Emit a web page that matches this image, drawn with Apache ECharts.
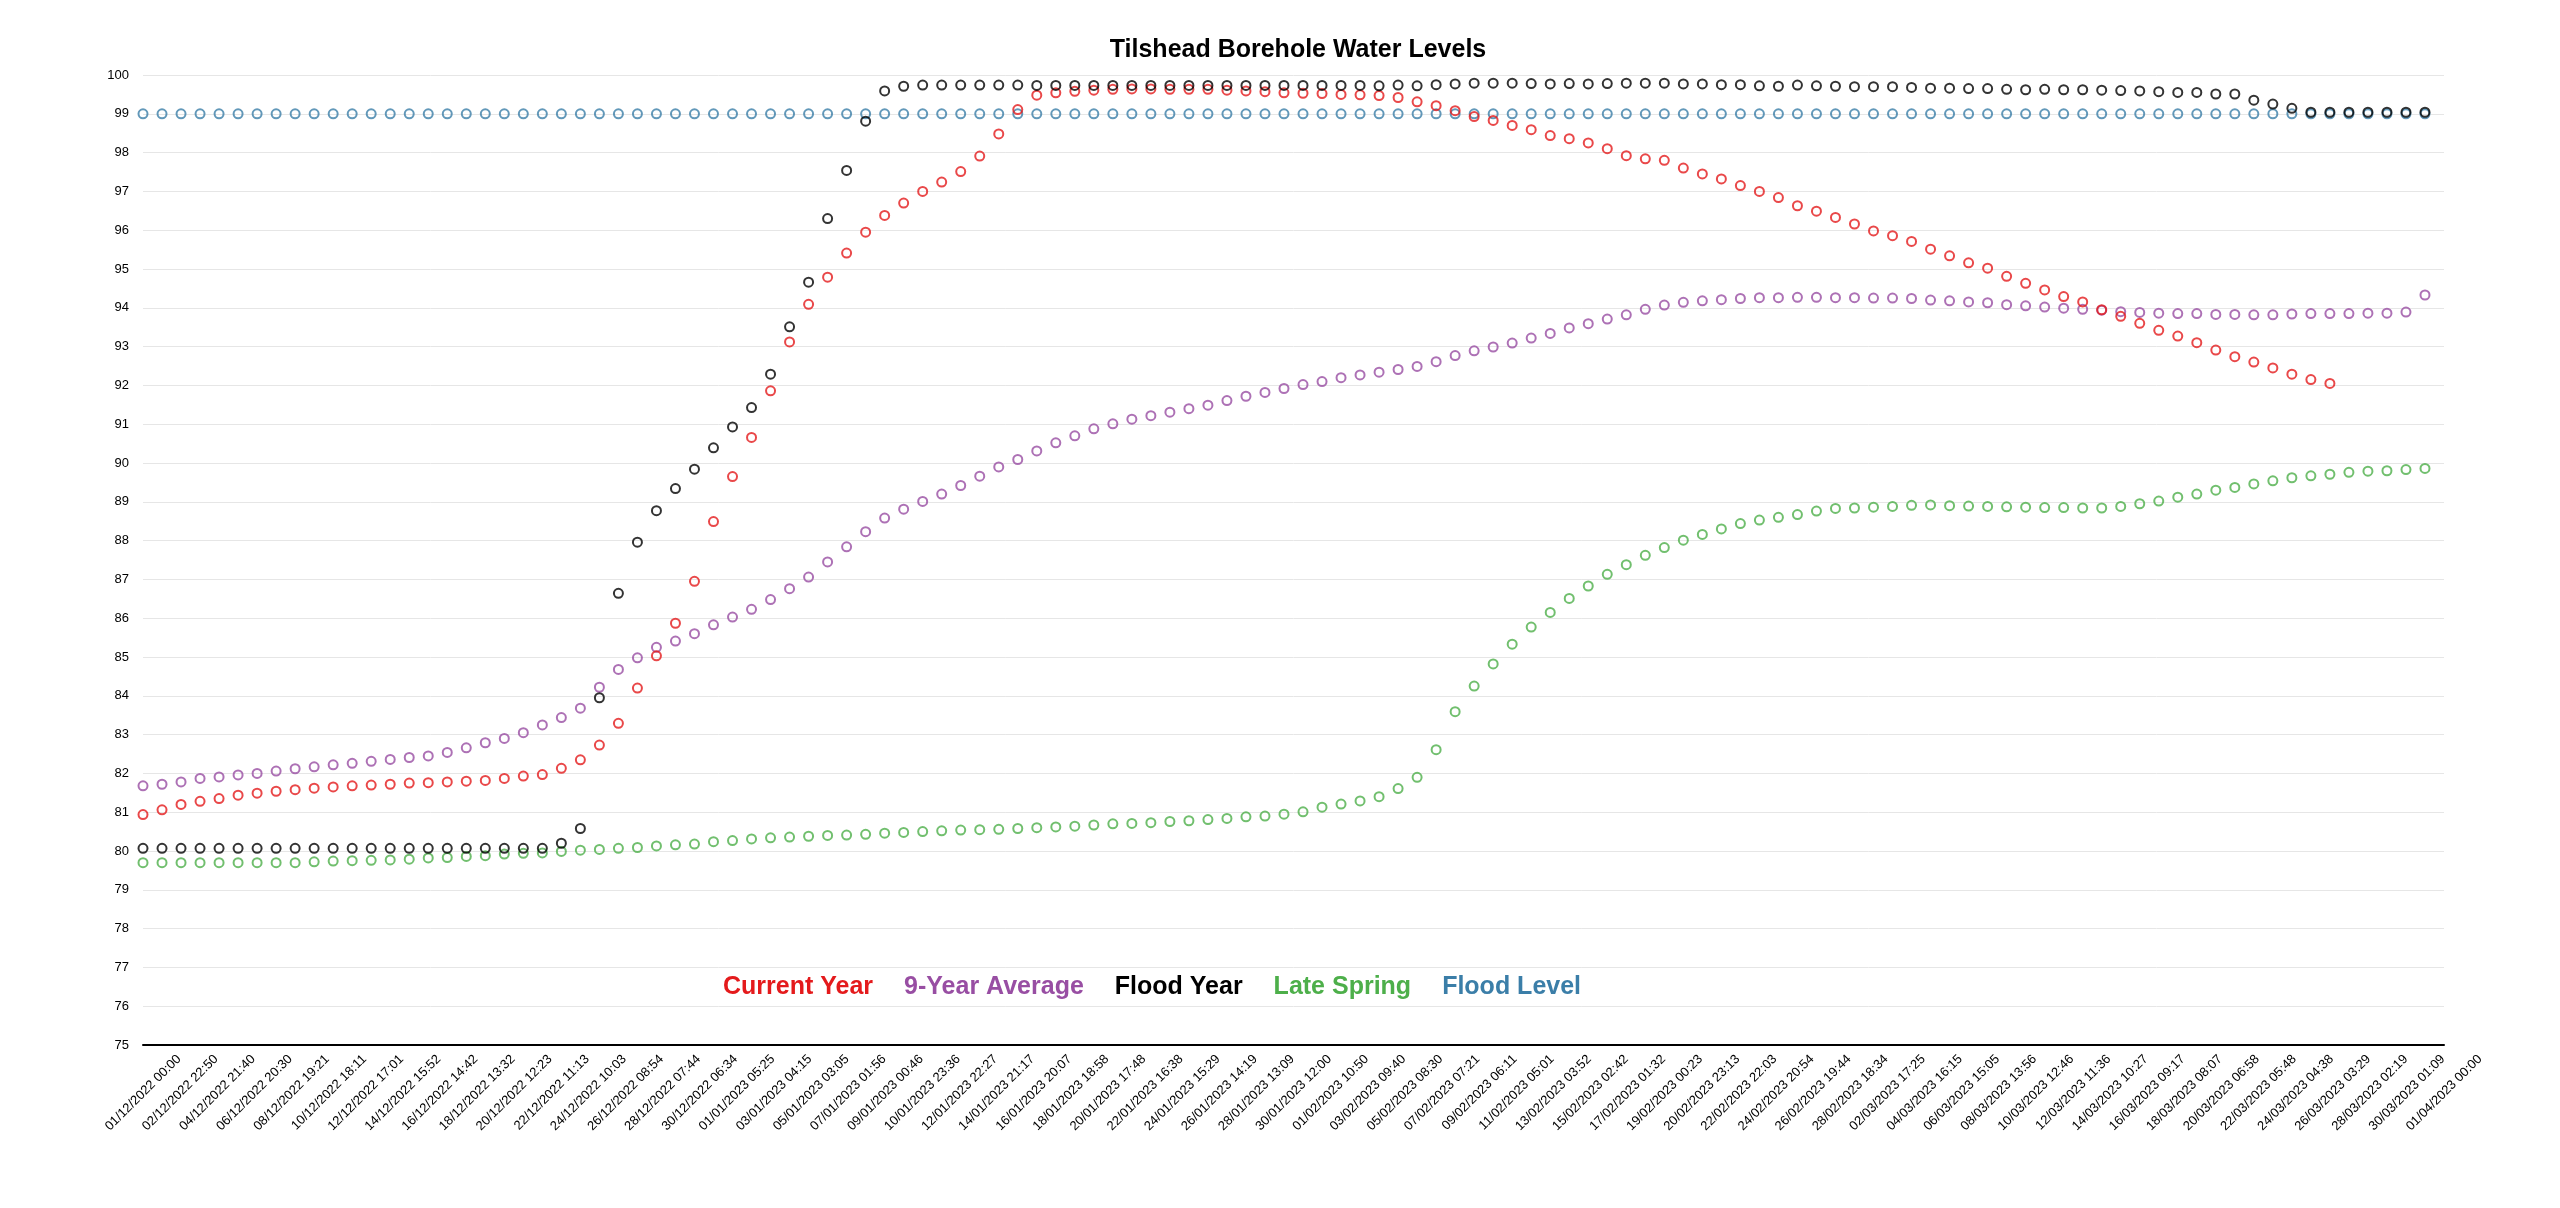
<!DOCTYPE html>
<html>
<head>
<meta charset="utf-8">
<title>Tilshead Borehole Water Levels</title>
<script src="https://cdn.jsdelivr.net/npm/echarts@6/dist/echarts.min.js"></script>
<style>
html, body { margin: 0; padding: 0; background: #fff; }
#myChart { width: 2560px; height: 1208px; }
</style>
</head>
<body>
<div id="myChart"></div>
<script>
// one reading per day, starting 01/12/2022 00:00 (day 0)
var startDate = Date.UTC(2022, 11, 1);
var totalHours = 2904;      // 01/12/2022 -> 01/04/2023
var tickCount = 62;         // evenly spaced time ticks

var seriesNames = ['Current Year', '9-Year Average', 'Flood Year', 'Late Spring', 'Flood Level'];
var seriesColors = ['#e41a1c', '#984ea3', '#000000', '#4daf4a', '#3b7ea8'];

// Current Year, days 0..115
var currentYear = [
  80.94, 81.06, 81.20, 81.28, 81.35, 81.44, 81.49, 81.54, 81.58, 81.62,
  81.65, 81.68, 81.70, 81.72, 81.75, 81.76, 81.78, 81.80, 81.82, 81.87,
  81.93, 81.97, 82.13, 82.35, 82.73, 83.29, 84.20, 85.03, 85.87, 86.95,
  88.49, 89.65, 90.66, 91.86, 93.12, 94.09, 94.79, 95.41, 95.95, 96.38,
  96.70, 97.00, 97.24, 97.51, 97.91, 98.48, 99.11, 99.48, 99.54, 99.58,
  99.61, 99.63, 99.64, 99.64, 99.63, 99.63, 99.63, 99.61, 99.59, 99.57,
  99.54, 99.53, 99.52, 99.50, 99.49, 99.47, 99.42, 99.31, 99.21, 99.08,
  98.93, 98.83, 98.70, 98.59, 98.44, 98.36, 98.25, 98.10, 97.92, 97.84,
  97.80, 97.60, 97.45, 97.32, 97.15, 97.00, 96.84, 96.63, 96.49, 96.33,
  96.16, 95.98, 95.86, 95.71, 95.51, 95.34, 95.16, 95.02, 94.81, 94.63,
  94.46, 94.29, 94.15, 93.95, 93.78, 93.60, 93.42, 93.27, 93.10, 92.91,
  92.74, 92.60, 92.45, 92.29, 92.15, 92.05
];

// 9-Year Average, days 0..120
var nineYearAverage = [
  81.68, 81.72, 81.78, 81.87, 81.91, 81.96, 82.00, 82.06, 82.12, 82.17,
  82.22, 82.26, 82.31, 82.36, 82.41, 82.45, 82.54, 82.66, 82.79, 82.90,
  83.05, 83.25, 83.44, 83.68, 84.22, 84.68, 84.98, 85.25, 85.41, 85.60,
  85.83, 86.03, 86.23, 86.48, 86.76, 87.06, 87.45, 87.84, 88.23, 88.58,
  88.81, 89.01, 89.20, 89.42, 89.66, 89.90, 90.09, 90.31, 90.52, 90.70,
  90.88, 91.01, 91.13, 91.22, 91.31, 91.40, 91.49, 91.61, 91.72, 91.82,
  91.92, 92.02, 92.10, 92.20, 92.27, 92.34, 92.41, 92.49, 92.61, 92.77,
  92.89, 92.99, 93.09, 93.22, 93.34, 93.48, 93.59, 93.71, 93.82, 93.96,
  94.07, 94.14, 94.18, 94.21, 94.24, 94.26, 94.26, 94.27, 94.27, 94.26,
  94.26, 94.25, 94.25, 94.24, 94.20, 94.18, 94.15, 94.13, 94.08, 94.05,
  94.02, 93.99, 93.96, 93.94, 93.90, 93.88, 93.86, 93.85, 93.85, 93.83,
  93.83, 93.82, 93.82, 93.84, 93.85, 93.85, 93.85, 93.86, 93.86, 93.89,
  94.33
];

// Flood Year, days 0..120
var floodYear = [
  80.07, 80.07, 80.07, 80.07, 80.07, 80.07, 80.07, 80.07, 80.07, 80.07,
  80.07, 80.07, 80.07, 80.07, 80.07, 80.07, 80.07, 80.07, 80.07, 80.07,
  80.07, 80.07, 80.20, 80.58, 83.95, 86.64, 87.96, 88.77, 89.34, 89.84,
  90.39, 90.93, 91.43, 92.29, 93.51, 94.66, 96.30, 97.54, 98.81, 99.59,
  99.71, 99.74, 99.74, 99.74, 99.74, 99.74, 99.74, 99.73, 99.73, 99.73,
  99.73, 99.73, 99.73, 99.73, 99.73, 99.73, 99.73, 99.73, 99.73, 99.73,
  99.73, 99.73, 99.73, 99.73, 99.73, 99.72, 99.74, 99.72, 99.75, 99.77,
  99.79, 99.79, 99.79, 99.78, 99.77, 99.78, 99.77, 99.78, 99.79, 99.79,
  99.79, 99.77, 99.77, 99.75, 99.75, 99.72, 99.71, 99.74, 99.72, 99.71,
  99.70, 99.70, 99.70, 99.68, 99.66, 99.66, 99.65, 99.65, 99.63, 99.62,
  99.63, 99.62, 99.62, 99.61, 99.60, 99.59, 99.57, 99.55, 99.55, 99.51,
  99.51, 99.35, 99.25, 99.14, 99.04, 99.04, 99.04, 99.04, 99.04, 99.04,
  99.04
];

// Late Spring, days 0..120
var lateSpring = [
  79.70, 79.70, 79.70, 79.70, 79.70, 79.70, 79.70, 79.70, 79.70, 79.72,
  79.74, 79.75, 79.76, 79.77, 79.79, 79.82, 79.83, 79.86, 79.88, 79.92,
  79.94, 79.95, 79.99, 80.02, 80.04, 80.07, 80.09, 80.13, 80.16, 80.18,
  80.24, 80.27, 80.31, 80.34, 80.36, 80.38, 80.40, 80.41, 80.43, 80.46,
  80.48, 80.50, 80.52, 80.54, 80.55, 80.56, 80.58, 80.60, 80.62, 80.64,
  80.67, 80.70, 80.71, 80.73, 80.76, 80.78, 80.81, 80.84, 80.88, 80.90,
  80.95, 81.01, 81.13, 81.21, 81.29, 81.40, 81.61, 81.90, 82.61, 83.59,
  84.25, 84.82, 85.33, 85.77, 86.15, 86.51, 86.83, 87.13, 87.38, 87.62,
  87.82, 88.01, 88.16, 88.30, 88.44, 88.53, 88.60, 88.67, 88.76, 88.83,
  88.84, 88.86, 88.88, 88.91, 88.92, 88.90, 88.89, 88.88, 88.87, 88.86,
  88.85, 88.85, 88.84, 88.84, 88.88, 88.95, 89.02, 89.12, 89.20, 89.30,
  89.37, 89.46, 89.54, 89.62, 89.67, 89.71, 89.76, 89.79, 89.80, 89.83,
  89.86
];

// Flood Level, days 0..120
var floodLevel = [
  99, 99, 99, 99, 99, 99, 99, 99, 99, 99, 99, 99, 99, 99, 99, 99, 99, 99, 99, 99,
  99, 99, 99, 99, 99, 99, 99, 99, 99, 99, 99, 99, 99, 99, 99, 99, 99, 99, 99, 99,
  99, 99, 99, 99, 99, 99, 99, 99, 99, 99, 99, 99, 99, 99, 99, 99, 99, 99, 99, 99,
  99, 99, 99, 99, 99, 99, 99, 99, 99, 99, 99, 99, 99, 99, 99, 99, 99, 99, 99, 99,
  99, 99, 99, 99, 99, 99, 99, 99, 99, 99, 99, 99, 99, 99, 99, 99, 99, 99, 99, 99,
  99, 99, 99, 99, 99, 99, 99, 99, 99, 99, 99, 99, 99, 99, 99, 99, 99, 99, 99, 99,
  99
];

var seriesValues = [currentYear, nineYearAverage, floodYear, lateSpring, floodLevel];
// draw order: flood level at the back
var drawOrder = [4, 3, 1, 0, 2];

function pad(n) { return n < 10 ? '0' + n : '' + n; }

// hours since start -> dd/mm/yyyy HH:MM
function labelText(h) {
  var d = new Date(startDate + Math.round(h * 3600000));
  return pad(d.getUTCDate()) + '/' + pad(d.getUTCMonth() + 1) + '/' + d.getUTCFullYear() +
    ' ' + pad(d.getUTCHours()) + ':' + pad(d.getUTCMinutes());
}

var fontFamily = '"Liberation Sans", Arial, Helvetica, sans-serif';
var tickInterval = totalHours / tickCount;
var labelShift = 36;   // the date labels sit a little right of their ticks

var series = drawOrder.map(function (k) {
  return {
    name: seriesNames[k],
    type: 'scatter',
    symbol: 'circle',
    symbolSize: 9,
    itemStyle: {
      color: 'rgba(0,0,0,0)',
      borderColor: seriesColors[k],
      borderWidth: 2
    },
    emphasis: { disabled: true },
    data: seriesValues[k].map(function (v, i) { return [i * 24, v]; })
  };
});

var myChart = echarts.init(document.getElementById('myChart'));
myChart.setOption({
  animation: false,
  textStyle: { fontFamily: fontFamily },
  title: {
    text: 'Tilshead Borehole Water Levels',
    left: 1293,
    top: 33,
    textAlign: 'center',
    textStyle: { fontSize: 25, fontWeight: 'bold', color: '#000', fontFamily: fontFamily }
  },
  legend: {
    left: 712,
    top: 970,
    itemWidth: 0,
    itemHeight: 0,
    itemGap: 25,
    data: seriesNames.map(function (n, k) {
      return { name: n, textStyle: { color: seriesColors[k] } };
    }),
    textStyle: { fontSize: 25, fontWeight: 'bold', fontFamily: fontFamily }
  },
  grid: [
    { left: 143, right: 116, top: 75, bottom: 163 },
    { left: 143 + labelShift, right: 116 - labelShift, top: 75, bottom: 163 }
  ],
  xAxis: [{
    type: 'value',
    gridIndex: 0,
    min: 0,
    max: totalHours,
    interval: tickInterval,
    axisLine: { show: true, lineStyle: { color: '#000', width: 2 } },
    axisTick: { show: false },
    axisLabel: { show: false },
    splitLine: { show: false }
  }, {
    // labels only
    type: 'value',
    gridIndex: 1,
    min: 0,
    max: totalHours,
    interval: tickInterval,
    axisLine: { show: false },
    axisTick: { show: false },
    splitLine: { show: false },
    axisLabel: {
      rotate: 45,
      margin: 12,
      fontSize: 13,
      color: '#000',
      hideOverlap: false,
      showMinLabel: true,
      showMaxLabel: true,
      formatter: labelText
    }
  }],
  yAxis: [{
    type: 'value',
    gridIndex: 0,
    min: 75,
    max: 100,
    interval: 1,
    axisLine: { show: false },
    axisTick: { show: false },
    axisLabel: { fontSize: 13, color: '#000', margin: 14 },
    splitLine: { show: true, lineStyle: { color: '#e6e6e6', width: 1 } }
  }, {
    type: 'value',
    gridIndex: 1,
    min: 75,
    max: 100,
    show: false
  }],
  series: series.concat([{
    type: 'scatter',
    xAxisIndex: 1,
    yAxisIndex: 1,
    silent: true,
    data: []
  }])
});
</script>
</body>
</html>
